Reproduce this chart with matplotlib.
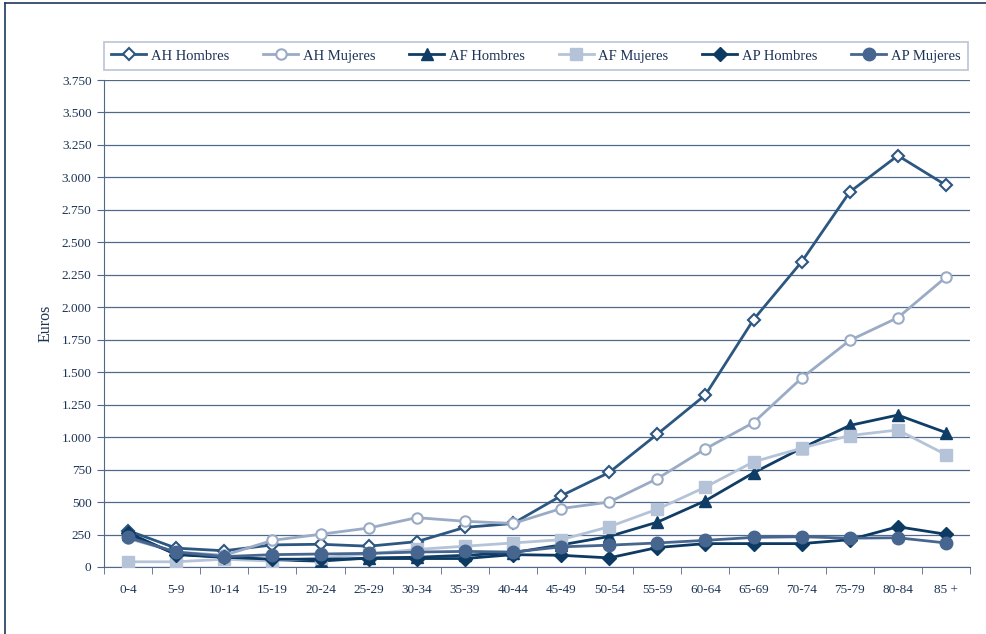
import matplotlib
matplotlib.use("Agg")
import matplotlib.pyplot as plt
from matplotlib.lines import Line2D
from matplotlib.ticker import FuncFormatter, MultipleLocator, FixedLocator, NullFormatter

plt.rcParams['font.family'] = ['Liberation Serif', 'DejaVu Serif']

categories = ['0-4', '5-9', '10-14', '15-19', '20-24', '25-29', '30-34', '35-39',
              '40-44', '45-49', '50-54', '55-59', '60-64', '65-69', '70-74',
              '75-79', '80-84', '85 +']

ah_hombres = [280, 145, 125, 170, 175, 160, 195, 305, 335, 548, 728, 1023,
              1325, 1905, 2350, 2888, 3168, 2940]
ah_mujeres = [220, 115, 90, 205, 252, 300, 380, 352, 335, 450, 500, 680,
              910, 1112, 1455, 1745, 1920, 2232]
af_hombres = [255, 100, 75, 55, 45, 70, 75, 90, 110, 170, 235, 345,
              510, 725, 915, 1090, 1170, 1035]
af_mujeres = [40, 40, 60, 45, 70, 100, 135, 160, 185, 210, 310, 445,
              615, 810, 915, 1012, 1055, 865]
ap_hombres = [265, 95, 75, 60, 60, 65, 65, 65, 95, 90, 70, 150,
              180, 180, 180, 210, 310, 252]
ap_mujeres = [228, 115, 80, 95, 100, 105, 115, 120, 115, 155, 168, 185,
              205, 228, 233, 222, 225, 185]

series_names = ['AH Hombres', 'AH Mujeres', 'AF Hombres', 'AF Mujeres',
                'AP Hombres', 'AP Mujeres']

text_col = '#1c3355'
grid_col = '#50688a'

fig = plt.figure(figsize=(9.87, 6.34), dpi=100)
ax = fig.add_axes([0.1054, 0.1057, 0.8774, 0.7681])

x = list(range(len(categories)))

styles = [
    dict(data=ah_hombres, color='#2c5780', marker='D', mfc='white', ms=6.0, mew=1.5),
    dict(data=ah_mujeres, color='#9aabc5', marker='o', mfc='white', ms=7.5, mew=1.5),
    dict(data=af_hombres, color='#0f3d66', marker='^', mfc='#0f3d66', ms=9.0, mew=1.0),
    dict(data=af_mujeres, color='#b5c3d9', marker='s', mfc='#b5c3d9', ms=8.0, mew=1.0),
    dict(data=ap_hombres, color='#0c3a62', marker='D', mfc='#0c3a62', ms=7.0, mew=1.0),
    dict(data=ap_mujeres, color='#46668f', marker='o', mfc='#46668f', ms=9.0, mew=1.0),
]

handles = []
for name, st in zip(series_names, styles):
    (h,) = ax.plot(x, st['data'], color=st['color'], lw=2.0, marker=st['marker'],
                   mfc=st['mfc'], mec=st['color'], ms=st['ms'], mew=st['mew'],
                   label=name, zorder=3)
    handles.append(h)

ax.set_xlim(-0.5, len(categories) - 0.5)
ax.set_ylim(0, 3750)

ax.yaxis.set_major_locator(MultipleLocator(250))
ax.yaxis.set_major_formatter(FuncFormatter(lambda v, p: f"{int(v):,}".replace(',', '.')))
ax.grid(axis='y', color=grid_col, lw=0.9, zorder=0)
ax.set_axisbelow(True)

ax.set_xticks(x)
ax.set_xticklabels(categories)
ax.xaxis.set_minor_locator(FixedLocator([i - 0.5 for i in range(len(categories) + 1)]))
ax.xaxis.set_minor_formatter(NullFormatter())
ax.tick_params(axis='x', which='major', length=0, pad=12, labelsize=9.5, labelcolor=text_col)
ax.tick_params(axis='x', which='minor', length=5, color=grid_col, direction='out')
ax.tick_params(axis='y', length=5, color=grid_col, direction='out', labelsize=9.5,
               labelcolor=text_col, pad=4)

for side in ['top', 'right']:
    ax.spines[side].set_visible(False)
ax.spines['left'].set_color(grid_col)
ax.spines['bottom'].set_color(grid_col)

ax.set_ylabel('Euros', fontsize=11.5, color=text_col, labelpad=6)

leg = fig.legend(handles=handles, loc='center', ncol=6,
                 bbox_to_anchor=(0.1054, 0.8896, 0.875, 0.0442), mode='expand',
                 frameon=True, fancybox=False, fontsize=10.5, handlelength=2.4,
                 handletextpad=0.3, columnspacing=1.0, borderaxespad=0,
                 borderpad=0.5)
leg.get_frame().set_edgecolor('#a9b6c8')
leg.get_frame().set_linewidth(1.2)
for t in leg.get_texts():
    t.set_color(text_col)

# outer frame lines along the left and top edges
frame_col = '#1d3a5e'
fig.add_artist(Line2D([0.0055, 0.0055], [0.0, 0.9953], transform=fig.transFigure,
                      color=frame_col, lw=1.2))
fig.add_artist(Line2D([0.0055, 1.0], [0.9953, 0.9953], transform=fig.transFigure,
                      color=frame_col, lw=1.2))

fig.savefig('out.png', dpi=100)
